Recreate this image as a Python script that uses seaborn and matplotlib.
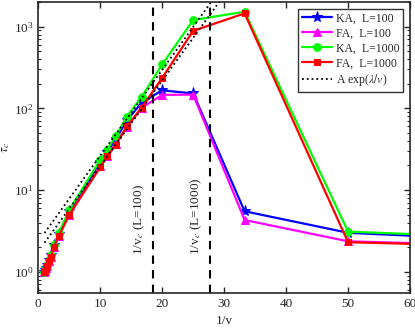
import numpy as np
import pandas as pd
import matplotlib
matplotlib.use("Agg")
import matplotlib.pyplot as plt
import seaborn as sns

# 1/v values of the simulated points
inv_v = [1, 1.11, 1.25, 1.43, 1.67, 2, 2.5, 3.33, 5, 10, 11.1, 12.5, 14.3, 16.7, 20, 25, 33.3, 50, 100]

tau_ka_100 = [1.0, 1.05, 1.12, 1.2, 1.4, 1.6, 2.1, 2.9, 5.5, 22, 29, 42, 71, 118, 166, 152, 5.5, 3.0, 2.0]
tau_fa_100 = [1.0, 1.03, 1.1, 1.17, 1.35, 1.5, 2.0, 2.77, 5.0, 19.5, 26, 37, 59, 102, 146, 147, 4.3, 2.36, 1.84]
tau_ka_1000 = [1.0, 1.05, 1.12, 1.2, 1.4, 1.6, 2.1, 3.0, 5.7, 23.5, 31, 46, 79, 139, 344, 1205, 1520, 3.1, 2.2]
tau_fa_1000 = [1.0, 1.03, 1.1, 1.17, 1.35, 1.5, 2.0, 2.77, 5.0, 19.1, 25.8, 36, 60, 102, 236, 887, 1450, 2.3, 1.84]

# fits A exp(lambda/v)
fit_A = [2.34, 1.78]
fit_lam = [0.242, 0.2406]
fit_x = [1, 35]

# critical points
inv_vc = [18.45, 27.7]
vc_labels = [r"1/v$_c$ (L=100)", r"1/v$_c$ (L=1000)"]

sns.set_style("ticks")
plt.rcParams["font.family"] = ["Liberation Serif", "DejaVu Serif"]
plt.rcParams["mathtext.fontset"] = "stix"
plt.rcParams["xtick.direction"] = "in"
plt.rcParams["ytick.direction"] = "in"

fig = plt.figure(figsize=(4.15, 3.31), dpi=100)
ax = fig.add_axes([0.0923, 0.1148, 0.8957, 0.8792])

series = [
    ("KA,  L=100", tau_ka_100, "#0000ff", "*", 8),
    ("FA,  L=100", tau_fa_100, "#ff00ff", "^", 6),
    ("KA,  L=1000", tau_ka_1000, "#00ff00", "o", 5.5),
    ("FA,  L=1000", tau_fa_1000, "#ff0000", "s", 5),
]
for name, vals, col, mk, ms in series:
    sns.lineplot(x=inv_v, y=vals, ax=ax, color=col, marker=mk, markersize=ms,
                 markeredgecolor=col, linewidth=1.6, label=name, sort=False)

for i, (A, lam) in enumerate(zip(fit_A, fit_lam)):
    xx = np.array(fit_x, dtype=float)
    sns.lineplot(x=xx, y=A * np.exp(lam * xx), ax=ax, color="black", linestyle=":",
                 linewidth=1.3, label=r"A exp($\lambda/v$)" if i == 0 else None)

for xv, lab in zip(inv_vc, vc_labels):
    ax.axvline(xv, color="black", linestyle="--", linewidth=1.5, dashes=(4, 3))
    ax.text(xv - 2.2, 1.6, lab, rotation=90, fontsize=9.5, ha="center", va="bottom")

ax.set_yscale("log")
ax.set_xlim(0, 60)
ax.set_ylim(0.55, 2000)
ax.set_xticks([0, 10, 20, 30, 40, 50, 60])
ax.tick_params(which="both", top=True, right=True, labelsize=9.5)
ax.tick_params(which="major", length=4, width=1)
ax.tick_params(which="minor", length=2, width=0.8)
for s in ax.spines.values():
    s.set_linewidth(1.2)
ax.set_xlabel("1/v", fontsize=9.5)
ax.set_ylabel(r"$\tau_c$", fontsize=9.5)
ax.yaxis.set_label_coords(-0.07, 0.5)

leg = ax.legend(loc="upper right", fontsize=8.5, frameon=True, fancybox=False,
                edgecolor="black", handlelength=2.6, borderpad=0.3, labelspacing=0.25,
                handletextpad=0.3, borderaxespad=0.6)
leg.get_frame().set_linewidth(1.0)

fig.savefig("out.png", dpi=100)
